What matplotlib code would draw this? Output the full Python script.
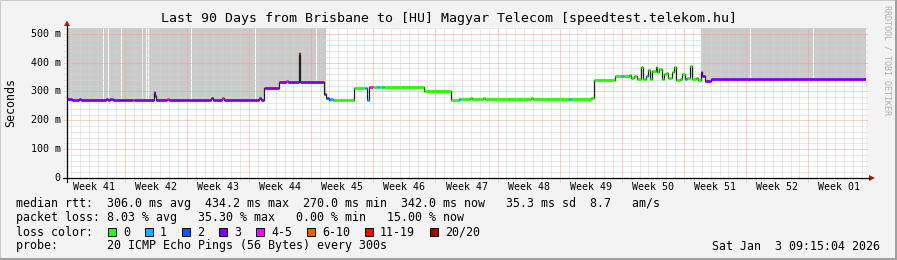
import numpy as np
import matplotlib
matplotlib.use("Agg")
import matplotlib.pyplot as plt
from matplotlib.patches import Polygon, Rectangle

# --- data (days since start of the 90 day window) ---
days = [0.00, 0.56, 1.35, 1.57, 4.38, 4.61, 4.83, 5.17, 7.42, 7.53,
        9.78, 9.90, 10.01, 11.24, 11.47, 16.19, 16.42, 17.43, 17.65, 21.59,
        21.81, 22.21, 23.84, 24.62, 24.85, 26.14, 26.25, 28.95, 29.23, 29.46,
        29.68, 29.91, 32.37, 33.61, 33.84, 34.07, 34.52, 34.97, 35.19, 35.53,
        35.75, 40.25, 43.29, 44.19, 44.41, 45.42, 45.65, 46.89, 47.11, 52.28,
        52.51, 56.56, 56.78, 59.03, 59.31, 61.78, 62.40, 62.74, 63.30, 63.49,
        63.86, 64.24, 64.62, 64.88, 65.18, 65.47, 65.66, 65.92, 66.30, 66.48,
        66.67, 66.97, 67.23, 67.49, 67.72, 68.10, 68.36, 68.62, 69.00, 69.30,
        69.60, 69.86, 70.16, 70.42, 70.80, 71.09, 71.36, 71.54, 71.85, 72.52]
rtt_ms = [273, 271, 275, 271, 274, 271, 275, 271, 272, 271,
          297, 286, 271, 275, 271, 276, 271, 277, 271, 276,
          270, 311, 334, 337, 334, 434.2, 333, 290, 277, 271,
          275, 271, 313, 313, 271, 315, 315, 315, 315, 315,
          315, 300, 272, 273, 273, 276, 273, 276, 273, 277,
          273, 273, 273, 276, 340, 352, 352, 352, 357, 346,
          352, 343, 384, 343, 352, 375, 343, 372, 386, 369,
          377, 343, 361, 363, 346, 369, 386, 340, 343, 361,
          343, 346, 389, 343, 346, 340, 366, 354, 336, 342]
loss_bin = [3, 3, 3, 3, 3, 3, 3, 3, 4, 3,
            4, 3, 3, 4, 3, 3, 3, 4, 3, 3,
            3, 3, 3, 4, 3, 5, 3, 3, 2, 1,
            1, 0, 0, 1, 1, 4, 0, 1, 0, 1,
            0, 0, 0, 1, 0, 0, 0, 0, 0, 0,
            0, 1, 0, 0, 0, 0, 1, 0, 0, 0,
            0, 0, 0, 0, 1, 0, 0, 0, 0, 0,
            0, 0, 0, 0, 0, 0, 0, 0, 0, 0,
            1, 0, 0, 0, 0, 0, 3, 3, 3, 3]
end_day = 90.0

loss_colors = ['#26ff00', '#00b8ff', '#0059ff', '#7e00ff',
               '#ff00ff', '#ff5500', '#ff0000', '#a10000']
loss_labels = ['0', '1', '2', '3', '4-5', '6-10', '11-19', '20/20']

smoke_spans = [(0.1, 29.23), (71.4, 90.0)]
smoke_gaps = [4.16, 4.72, 6.18, 8.55, 8.93, 9.22, 14.05, 21.25, 28.15, 77.0, 84.1]

first_monday = 6.5
week_labels = ['Week 41', 'Week 42', 'Week 43', 'Week 44', 'Week 45', 'Week 46', 'Week 47',
               'Week 48', 'Week 49', 'Week 50', 'Week 51', 'Week 52', 'Week 01']
y_ticks = [0, 100, 200, 300, 400, 500]
y_tick_labels = ['0', '100 m', '200 m', '300 m', '400 m', '500 m']
y_max = 520

title = "Last 90 Days from Brisbane to [HU] Magyar Telecom [speedtest.telekom.hu]"
stat_rtt = "median rtt:  306.0 ms avg  434.2 ms max  270.0 ms min  342.0 ms now   35.3 ms sd  8.7   am/s"
stat_loss = "packet loss: 8.03 % avg   35.30 % max   0.00 % min   15.00 % now"
probe = "probe:       20 ICMP Echo Pings (56 Bytes) every 300s"
stamp = "Sat Jan  3 09:15:04 2026"

# --- layout (pixels) ---
W, H = 897, 260
L, R, T, B = 67, 866, 28, 178
MONO = 'DejaVu Sans Mono'

def fx(x):
    return x / W

def fy(y):
    return 1 - y / H

fig = plt.figure(figsize=(W / 100, H / 100), dpi=100, facecolor='#f3f3f3')
ax = fig.add_axes([fx(L), fy(B), (R - L) / W, (B - T) / H])
ax.set_xlim(0, end_day)
ax.set_ylim(0, y_max)
ax.set_facecolor('white')
for s in ax.spines.values():
    s.set_visible(False)
ax.set_xticks([])
ax.set_yticks([])

t = np.array(days + [end_day])
v = np.array(rtt_ms, dtype=float)

def rtt_at(x):
    i = np.searchsorted(t, x, side='right') - 1
    return v[np.clip(i, 0, len(v) - 1)]

# smoke
gap_w = 0.11
segs = []
for a, b in smoke_spans:
    cuts = [g for g in smoke_gaps if a < g < b]
    edges = [a] + [c for g in cuts for c in (g - gap_w / 2, g + gap_w / 2)] + [b]
    segs += list(zip(edges[::2], edges[1::2]))
for a, b in segs:
    xs = np.concatenate(([a], t[(t > a) & (t < b)], [b]))
    ax.fill_between(xs, rtt_at(xs), y_max, step='post', color='#cacaca', lw=0, zorder=1)

# grid
dpx = end_day / (R - L)
vpx = y_max / (B - T)
dots = (0, (1, 1))
for yv in range(20, y_max + 1, 20):
    major = yv % 100 == 0
    ax.plot([-3 * dpx, end_day + 2 * dpx], [yv, yv], color='#f0a0a0' if major else '#d2d2d2',
            lw=0.72, ls=dots, clip_on=False, zorder=2)
weeks = first_monday + 7 * np.arange(len(week_labels) - 1)
for d in np.arange(first_monday - 6, end_day, 1.0):
    if np.isclose(weeks, d).any():
        continue
    ax.plot([d, d], [-2 * vpx, y_max], color='#d2d2d2', lw=0.72, ls=dots, clip_on=False, zorder=2)
for d in weeks:
    ax.plot([d, d], [-4 * vpx, y_max], color='#f0a0a0', lw=0.72, ls=dots, clip_on=False, zorder=2)

# median line
ax.step(t, np.append(v, v[-1]), where='post', color='#202020', lw=0.9, zorder=3)
for i in range(len(v)):
    ax.plot([t[i], t[i + 1]], [v[i], v[i]], color=loss_colors[loss_bin[i]], lw=2.0,
            solid_capstyle='butt', zorder=4)

# axes with arrows
fig.add_artist(plt.Line2D([fx(63), fx(869)], [fy(178), fy(178)], color='black', lw=0.9))
fig.add_artist(plt.Line2D([fx(67), fx(67)], [fy(182), fy(26)], color='black', lw=0.9))
arrow_c = '#9b1c1c'
fig.add_artist(Polygon([[fx(869), fy(175)], [fx(869), fy(181)], [fx(875), fy(178)]],
                       closed=True, color=arrow_c, lw=0))
fig.add_artist(Polygon([[fx(64), fy(26)], [fx(70), fy(26)], [fx(67), fy(20.5)]],
                       closed=True, color=arrow_c, lw=0))

# tick labels
for i, lab in enumerate(week_labels):
    c = first_monday + 7 * (i - 1) + 3.5
    fig.text(fx(L + c / dpx), fy(187.5), lab, ha='center', va='center', family=MONO, size=7.2)
for yv, lab in zip(y_ticks, y_tick_labels):
    fig.text(fx(60.5), fy(B - yv / vpx), lab, ha='right', va='center', family=MONO, size=7.2)

# titles
fig.text(fx(448.5), fy(18.5), title, ha='center', va='center', family=MONO, size=9.5)
fig.text(fx(11), fy(103), 'Seconds', rotation=90, ha='center', va='center', family=MONO, size=8.4)
fig.text(fx(887), fy(60), 'RRDTOOL / TOBI OETIKER', rotation=270, ha='center', va='center',
         family=MONO, size=6, color='#b0b0b0')

# legend block
fig.text(fx(16), fy(204), stat_rtt, ha='left', va='center', family=MONO, size=8.4)
fig.text(fx(16), fy(218), stat_loss, ha='left', va='center', family=MONO, size=8.4)
fig.text(fx(16), fy(232), 'loss color:', ha='left', va='center', family=MONO, size=8.4)
bx = 108
for col, lab in zip(loss_colors, loss_labels):
    fig.add_artist(Rectangle((fx(bx), fy(235.7)), 8 / W, 8 / H, facecolor=col,
                             edgecolor='black', lw=0.7))
    fig.text(fx(bx + 15), fy(232), lab, ha='left', va='center', family=MONO, size=8.4)
    bx += 15 + 7 * len(lab) + 15
fig.text(fx(16), fy(246), probe, ha='left', va='center', family=MONO, size=8.4)
fig.text(fx(880), fy(246), stamp, ha='right', va='center', family=MONO, size=8.4)

# frame shading
fig.add_artist(Rectangle((0, fy(1)), 1, 1 / H, color='#cbcbcb', lw=0))
fig.add_artist(Rectangle((0, 0), 1 / W, 1, color='#cbcbcb', lw=0))
fig.add_artist(Rectangle((0, 0), 1, 2 / H, color='#a0a0a0', lw=0))
fig.add_artist(Rectangle((fx(W - 2), 0), 2 / W, 1, color='#a0a0a0', lw=0))

fig.savefig('out.png', dpi=100, facecolor=fig.get_facecolor())
